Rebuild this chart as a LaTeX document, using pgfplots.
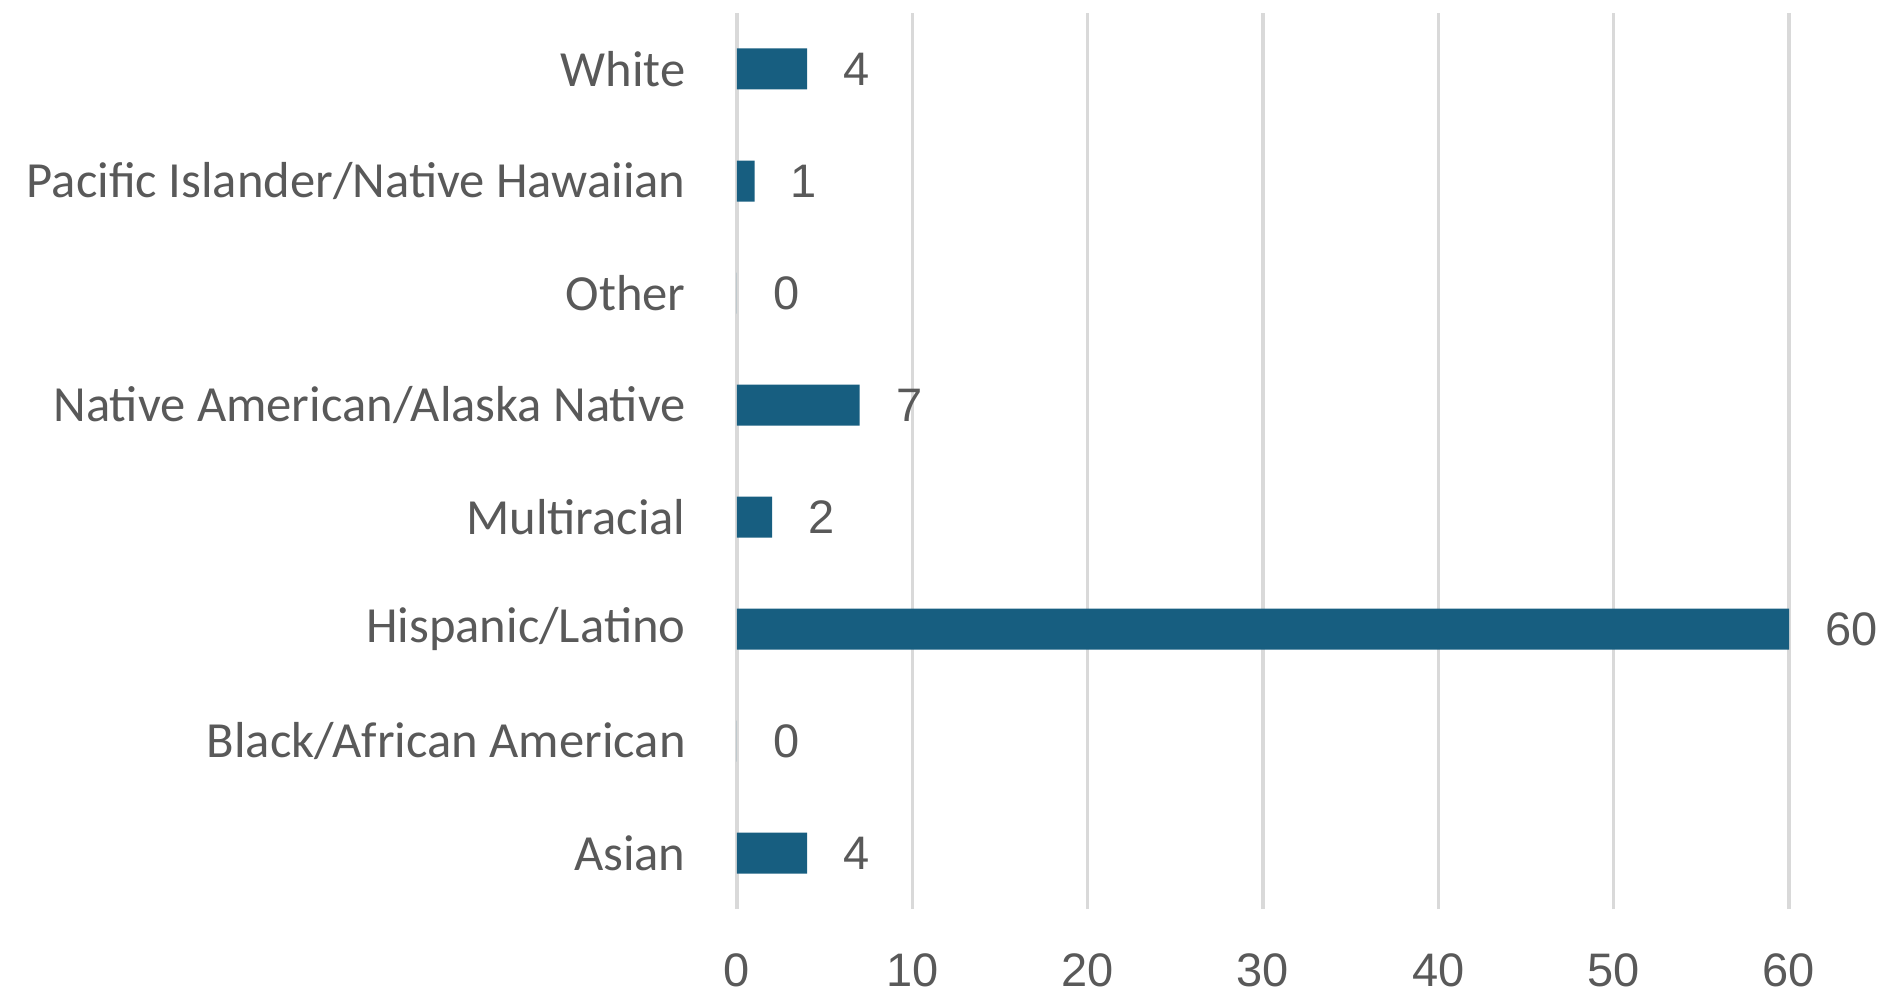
\documentclass[border=0pt]{standalone}
\usepackage{pgfplots}
\pgfplotsset{compat=1.18}
\usepackage{fontspec}
\setmainfont{Carlito}
\newfontfamily\numfont{Liberation Sans}
\definecolor{barblue}{HTML}{175E80}
\definecolor{gridgray}{HTML}{D9D9D9}
\definecolor{textgray}{HTML}{595959}

\begin{document}
\begin{tikzpicture}
\begin{axis}[
  at={(0pt,0pt)}, anchor=south west,
  scale only axis,
  width=526pt, height=448pt,
  xbar,
  bar width=20.5pt,
  xmin=0, xmax=60,
  ymin=-0.5, ymax=7.5,
  xtick={0,10,20,30,40,50,60},
  ytick={0,1,2,3,4,5,6,7},
  yticklabels={Asian,Black/African American,Hispanic/Latino,Multiracial,Native American/Alaska Native,Other,Pacific Islander/Native Hawaiian,White},
  axis line style={draw=none},
  major tick length=0pt,
  xmajorgrids,
  grid style={gridgray, line width=1.8pt},
  /pgf/number format/assume math mode=true,
  xticklabel style={font=\fontsize{23.5}{28}\numfont, text=textgray, anchor=north, inner sep=0pt, yshift=-22pt},
  yticklabel style={font=\fontsize{25.3}{30}\selectfont, text=textgray, anchor=east, inner sep=0pt, xshift=-25.5pt},
  nodes near coords,
  every node near coord/.append style={font=\fontsize{23.5}{28}\numfont, text=textgray, anchor=west, inner sep=0pt, xshift=18pt},
]
\addplot [fill=barblue, draw=none] coordinates {
  (4,0)
  (0,1)
  (60,2)
  (2,3)
  (7,4)
  (0,5)
  (1,6)
  (4,7)
};
\end{axis}
\pgfresetboundingbox
\path[use as bounding box] (-368.5pt,-44pt) rectangle (573pt,454.5pt);
\end{tikzpicture}
\end{document}
